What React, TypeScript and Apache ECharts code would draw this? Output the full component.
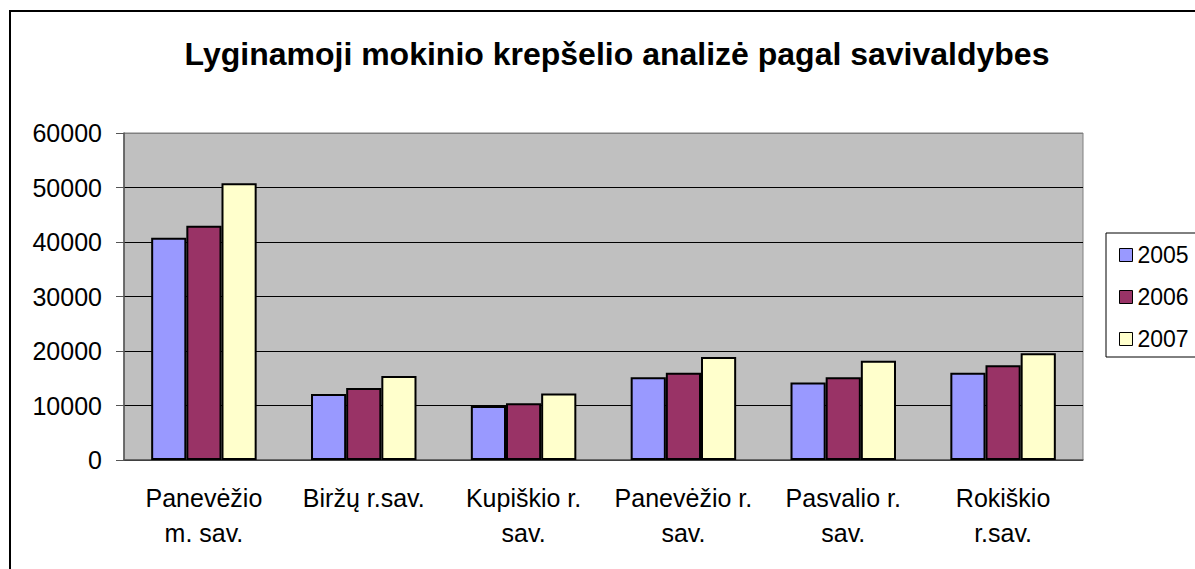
import React, { useEffect, useRef } from "react";
import * as echarts from "echarts";

const categories = ["Panevėžio m. sav.", "Biržų r.sav.", "Kupiškio r. sav.", "Panevėžio r. sav.", "Pasvalio r. sav.", "Rokiškio r.sav."];
const tickLabels = ["Panevėžio\nm. sav.", "Biržų r.sav.", "Kupiškio r.\nsav.", "Panevėžio r.\nsav.", "Pasvalio r.\nsav.", "Rokiškio\nr.sav."];
const seriesNames = ["2005", "2006", "2007"];
const values2005 = [40800, 12100, 9900, 15200, 14200, 16000];
const values2006 = [43000, 13200, 10400, 16000, 15200, 17400];
const values2007 = [50800, 15400, 12200, 18900, 18200, 19600];
const colors = ["#9999FF", "#993366", "#FFFFCC"];
const yTicks = [0, 10000, 20000, 30000, 40000, 50000, 60000];

const FONT = "'Liberation Sans', Arial, sans-serif";

export default function App() {
  const ref = useRef<HTMLDivElement>(null);
  useEffect(() => {
    if (!ref.current) return;
    const chart = echarts.init(ref.current, undefined, { renderer: "svg" });
    const data = [values2005, values2006, values2007];
    chart.setOption({
      animation: false,
      backgroundColor: "#FFFFFF",
      textStyle: { fontFamily: FONT },
      title: {
        text: "Lyginamoji mokinio krepšelio analizė pagal savivaldybes",
        left: 612,
        top: 33,
        textAlign: "center",
        textStyle: { fontFamily: FONT, fontSize: 32, fontWeight: "bold", color: "#000" },
      },
      legend: {
        orient: "vertical",
        left: 1114,
        top: 238,
        itemWidth: 13,
        itemHeight: 13,
        itemGap: 18,
        icon: "rect",
        itemStyle: { borderColor: "#000", borderWidth: 1 },
        textStyle: { fontFamily: FONT, fontSize: 23, color: "#000", lineHeight: 24 },
        data: seriesNames,
      },
      grid: {
        left: 124,
        right: 112,
        top: 133,
        bottom: 109,
        show: true,
        backgroundColor: "#C0C0C0",
        borderColor: "#808080",
        borderWidth: 1,
      },
      xAxis: {
        type: "category",
        data: categories,
        axisLine: { lineStyle: { color: "#555", width: 1.5 } },
        axisTick: { length: 8, lineStyle: { color: "#555" } },
        axisLabel: {
          margin: 20,
          fontFamily: FONT,
          fontSize: 25,
          lineHeight: 35,
          color: "#000",
          interval: 0,
          formatter: (_v: string, i: number) => tickLabels[i],
        },
      },
      yAxis: {
        type: "value",
        min: yTicks[0],
        max: yTicks[yTicks.length - 1],
        interval: 10000,
        axisLine: { show: true, lineStyle: { color: "#555", width: 1.5 } },
        axisTick: { show: true, length: 8, lineStyle: { color: "#555" } },
        axisLabel: {
          margin: 22,
          fontFamily: FONT,
          fontSize: 25,
          color: "#000",
          formatter: (v: number) => String(v),
        },
        splitLine: {
          lineStyle: { color: ["#000", "#000", "#000", "#000", "#000", "#000", "#808080"], width: 1 },
        },
      },
      series: seriesNames.map((name, i) => ({
        name,
        type: "bar",
        data: data[i],
        barGap: "0%",
        barCategoryGap: "34%",
        itemStyle: { color: colors[i], borderColor: "#000", borderWidth: 2 },
      })),
      graphic: [
        {
          type: "rect",
          shape: { x: 10, y: 11, width: 1400, height: 800 },
          style: { fill: "none", stroke: "#000", lineWidth: 2 },
          silent: true,
        },
        {
          type: "rect",
          shape: { x: 1106, y: 233, width: 200, height: 124 },
          style: { fill: "none", stroke: "#000", lineWidth: 1 },
          silent: true,
        },
      ],
    });
    return () => chart.dispose();
  }, []);
  return (
    <div
      ref={ref}
      style={{ position: "absolute", left: 0, top: 0, width: 1195, height: 569 }}
    />
  );
}
